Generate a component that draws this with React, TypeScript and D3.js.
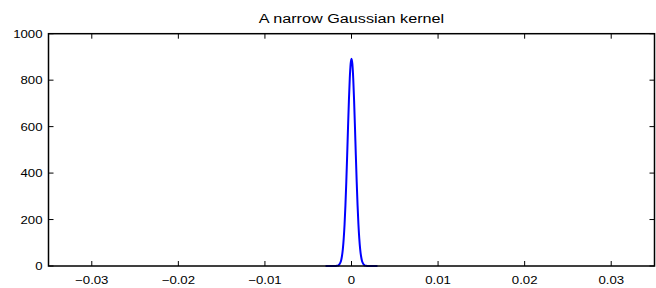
import * as d3 from 'd3';

// Values (x in data units, y density)
const xValues = [
  -0.003, -0.0028, -0.0026, -0.0024, -0.0022, -0.002, -0.0019, -0.0018, -0.0017, -0.0016,
  -0.0015, -0.0014, -0.0013, -0.0012, -0.0011, -0.001, -0.0009, -0.0008, -0.0007, -0.0006,
  -0.0005, -0.0004, -0.0003, -0.0002, -0.0001, 0,
  0.0001, 0.0002, 0.0003, 0.0004, 0.0005, 0.0006, 0.0007, 0.0008, 0.0009, 0.001,
  0.0011, 0.0012, 0.0013, 0.0014, 0.0015, 0.0016, 0.0017, 0.0018, 0.0019, 0.002,
  0.0022, 0.0024, 0.0026, 0.0028, 0.003,
];
const yValues = [
  0, 0, 0, 0, 0, 0, 0.1, 0.3, 0.7, 1.5,
  3, 6.6, 13, 24, 43, 73, 118, 180, 262, 363,
  477, 598, 712, 807, 870, 892,
  870, 807, 712, 598, 477, 363, 262, 180, 118, 73,
  43, 24, 13, 6.6, 3, 1.5, 0.7, 0.3, 0.1, 0,
  0, 0, 0, 0, 0,
];
const xTicks = [-0.03, -0.02, -0.01, 0, 0.01, 0.02, 0.03];
const yTicks = [0, 200, 400, 600, 800, 1000];
const title = 'A narrow Gaussian kernel';

const WIDTH = 656;
const HEIGHT = 288;
const plot = { left: 48.5, right: 654.5, top: 33.7, bottom: 266 };
const TICK = 5;
const STRETCH = 1.2; // the reference text is a little wider than tall

const fmt = (v: number) => (v < 0 ? '\u2212' + String(-v) : String(v));

export default function App() {
  const x = d3.scaleLinear().domain([-0.035, 0.035]).range([plot.left, plot.right]);
  const y = d3.scaleLinear().domain([0, 1000]).range([plot.bottom, plot.top]);
  const points = xValues.map((v, i) => [v, yValues[i]] as [number, number]);
  const line = d3
    .line<[number, number]>()
    .x((d) => x(d[0]))
    .y((d) => y(d[1]))
    .curve(d3.curveMonotoneX);
  const font = 'Liberation Sans, Arial, sans-serif';

  return (
    <svg
      width={WIDTH}
      height={HEIGHT}
      style={{ position: 'absolute', left: 0, top: 0, display: 'block', background: '#fff' }}
    >
      <rect x={0} y={0} width={WIDTH} height={HEIGHT} fill="#fff" />
      <path d={line(points) ?? undefined} fill="none" stroke="#0000ff" strokeWidth={2} strokeLinejoin="round" />
      {xTicks.map((t) => (
        <g key={`x-${t}`}>
          <line x1={x(t)} x2={x(t)} y1={plot.bottom} y2={plot.bottom - TICK} stroke="#000" strokeWidth={1} />
          <line x1={x(t)} x2={x(t)} y1={plot.top} y2={plot.top + TICK} stroke="#000" strokeWidth={1} />
          <text
            transform={`translate(${x(t)},${plot.bottom + 17.5}) scale(${STRETCH},1)`}
            textAnchor="middle"
            fontFamily={font}
            fontSize={11}
            fill="#000"
          >
            {fmt(t)}
          </text>
        </g>
      ))}
      {yTicks.map((t) => (
        <g key={`y-${t}`}>
          <line x1={plot.left} x2={plot.left + TICK} y1={y(t)} y2={y(t)} stroke="#000" strokeWidth={1} />
          <line x1={plot.right} x2={plot.right - TICK} y1={y(t)} y2={y(t)} stroke="#000" strokeWidth={1} />
          <text
            transform={`translate(${plot.left - 6},${y(t) + 4}) scale(${STRETCH},1)`}
            textAnchor="end"
            fontFamily={font}
            fontSize={11}
            fill="#000"
          >
            {fmt(t)}
          </text>
        </g>
      ))}
      <rect
        x={plot.left}
        y={plot.top}
        width={plot.right - plot.left}
        height={plot.bottom - plot.top}
        fill="none"
        stroke="#000"
        strokeWidth={1.5}
      />
      <text
        transform={`translate(${(plot.left + plot.right) / 2},22.7) scale(${STRETCH},1)`}
        textAnchor="middle"
        fontFamily={font}
        fontSize={13.5}
        fill="#000"
      >
        {title}
      </text>
    </svg>
  );
}
